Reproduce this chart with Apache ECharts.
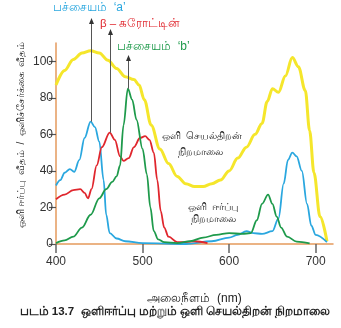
<!DOCTYPE html>
<html>
<head>
<meta charset="utf-8">
<script src="https://cdn.jsdelivr.net/npm/echarts@6/dist/echarts.min.js"></script>
<style>
  html, body { margin: 0; padding: 0; background: #fff; }
  #c { width: 341px; height: 328px; }
</style>
</head>
<body>
<div id="c"></div>
<script>
// Axis ticks
const xTicks = [400, 500, 600, 700];
const yTicks = [0, 20, 40, 60, 80, 100];

// Action spectrum (rate of photosynthesis)
const actionNm  = [400, 410, 420, 430, 440, 450, 460, 470, 480, 490, 496, 502, 510, 520, 530, 540, 550, 560, 570, 580, 590, 600, 610, 620, 630, 638, 644, 650, 657, 665, 673, 680, 688, 693, 698, 705, 713];
const actionVal = [87, 95, 101, 104.5, 105.8, 104.5, 100.5, 96, 91.5, 90, 87, 79, 65, 52, 44, 37, 33, 31.5, 31.5, 33, 35, 40, 47, 53, 60, 66, 78, 85, 83, 92, 102, 97, 84, 62, 39, 15, 1.5];

// Absorption spectrum: chlorophyll a
const chlANm  = [400, 405, 410, 416, 421, 427, 433, 440, 445, 450, 455, 458, 462, 470, 480, 500, 550, 580, 600, 610, 620, 628, 638, 650, 657, 663, 668, 673, 678, 684, 690, 695, 700, 713];
const chlAVal = [32, 35, 39, 41, 39.5, 46, 58, 67, 64, 56, 35, 16, 6, 3, 1.5, 0.5, 0, 1.5, 3.5, 5, 7, 6, 5.5, 7, 14, 33, 46, 50, 48, 40, 22, 10, 5, 1];

// Absorption spectrum: beta-carotene
const caroNm  = [400, 410, 420, 428, 433, 437, 441, 447, 453, 462, 468, 474, 478, 484, 490, 497, 503, 508, 513, 517, 521, 525, 530, 540, 550, 560, 575];
const caroVal = [24.5, 27, 29.5, 30, 28, 25, 30, 43, 53, 61, 57, 48, 45.5, 47, 53, 58, 59, 57, 50, 35, 18, 9, 4, 1, 1, 1.5, 0.5];

// Absorption spectrum: chlorophyll b
const chlBNm  = [400, 410, 420, 430, 440, 450, 458, 465, 470, 474, 478, 483, 488, 493, 500, 505, 509, 513, 518, 525, 540, 555, 570, 585, 600, 615, 625, 632, 638, 645, 650, 655, 660, 667, 678, 693];
const chlBVal = [0.5, 2, 4, 9, 16, 25, 30, 34, 37, 43, 65, 85, 79, 68, 52, 38, 20, 7, 2.5, 1, 0.5, 1.5, 3.5, 5, 6, 5.5, 6, 13, 22, 27, 22, 15, 9, 4, 1.3, 0.3];

// Peaks marked with arrows: [nm, value]
const peakChlA = [440, 67];
const peakCaro = [462, 61];
const peakChlB = [483, 85];

const pairs = (xs, ys) => xs.map((x, i) => [x, ys[i]]);

const COL_YELLOW = '#f5e62b';
const COL_BLUE = '#2aa7df';
const COL_RED = '#e0262d';
const COL_GREEN = '#1e9a4b';
const FONT = 'sans-serif';

const chart = echarts.init(document.getElementById('c'), null, { renderer: 'canvas' });

function curve(name, data, color, width, z) {
  return {
    name, type: 'line', data, z,
    smooth: 0.35, smoothMonotone: 'x',
    showSymbol: false, symbol: 'none',
    lineStyle: { color, width },
    silent: true
  };
}

chart.setOption({
  animation: false,
  backgroundColor: '#fff',
  grid: { left: 56, right: 8, top: 43, bottom: 84, containLabel: false },
  xAxis: {
    type: 'value', min: 400, max: 720,
    name: 'அலைநீளம்  (nm)', nameLocation: 'middle', nameGap: 49,
    nameTextStyle: { color: '#222', fontSize: 12, fontFamily: FONT },
    axisLine: { lineStyle: { color: '#e59a5c', width: 1.5 } },
    axisTick: { customValues: xTicks, length: 9, lineStyle: { color: '#666', width: 1.5 } },
    axisLabel: { customValues: xTicks, color: '#333', fontSize: 12, margin: 12, fontFamily: FONT },
    splitLine: { show: false }
  },
  yAxis: {
    type: 'value', min: 0, max: 110,
    axisLine: { show: true, lineStyle: { color: '#e59a5c', width: 1.5 } },
    axisTick: { show: true, customValues: yTicks, length: 7, lineStyle: { color: '#555', width: 1.2 } },
    axisLabel: { customValues: yTicks, color: '#333', fontSize: 12, margin: 3, fontFamily: FONT },
    splitLine: { show: false }
  },
  series: [
    curve('ஒளி செயல்திறன் நிறமாலை', pairs(actionNm, actionVal), COL_YELLOW, 3, 2),
    curve('பச்சையம் a', pairs(chlANm, chlAVal), COL_BLUE, 1.8, 3),
    curve('β – கரோட்டின்', pairs(caroNm, caroVal), COL_RED, 1.8, 3),
    curve('பச்சையம் b', pairs(chlBNm, chlBVal), COL_GREEN, 1.8, 3)
  ]
});

// Arrows from the absorption peaks up to their labels
function arrow(peak, tipY, label, color, labelX, labelY, size) {
  const p = chart.convertToPixel({ gridIndex: 0 }, peak);
  const x = Math.round(p[0]) + 0.5;
  return [
    { type: 'line', z: 10, shape: { x1: x, y1: p[1], x2: x, y2: tipY + 4 }, style: { stroke: '#555', lineWidth: 1 } },
    { type: 'polygon', z: 10, shape: { points: [[x, tipY], [x - 2.5, tipY + 6], [x + 2.5, tipY + 6]] }, style: { fill: '#333' } },
    { type: 'text', z: 10, x: labelX, y: labelY, style: { text: label, fill: color, font: size + 'px ' + FONT, textVerticalAlign: 'middle' } }
  ];
}

function note(text, x, y, font) {
  return { type: 'text', x, y, style: { text, fill: '#222', font: font + ' ' + FONT, textAlign: 'center', textVerticalAlign: 'middle' } };
}

const g = [].concat(
  arrow(peakChlA, 18, 'பச்சையம்  ‘a’', COL_BLUE, 53, 8, 12),
  arrow(peakCaro, 29, 'β – கரோட்டின்', COL_RED, 100, 24, 11.5),
  arrow(peakChlB, 55, 'பச்சையம்  ‘b’', COL_GREEN, 117, 47, 12),
  [
    note('ஒளி  செயல்திறன்', 202, 136, '10px'),
    note('நிறமாலை', 200, 152, '10px'),
    note('ஒளி  ஈர்ப்பு', 213, 207, '10px'),
    note('நிறமாலை', 213, 219, '10px'),
    note('படம் 13.7  ஒளிஈர்ப்பு மற்றும் ஒளி செயல்திறன் நிறமாலை', 175, 312, 'bold 11.5px'),
    {
      type: 'text', x: 21, y: 135, rotation: Math.PI / 2,
      style: { text: 'ஒளி ஈர்ப்பு  வீதம்  /  ஒளிச்சேர்க்கை  வீதம்', fill: '#222', font: '10px ' + FONT, textAlign: 'center', textVerticalAlign: 'middle' }
    }
  ]
);

chart.setOption({ graphic: g });
</script>
</body>
</html>
